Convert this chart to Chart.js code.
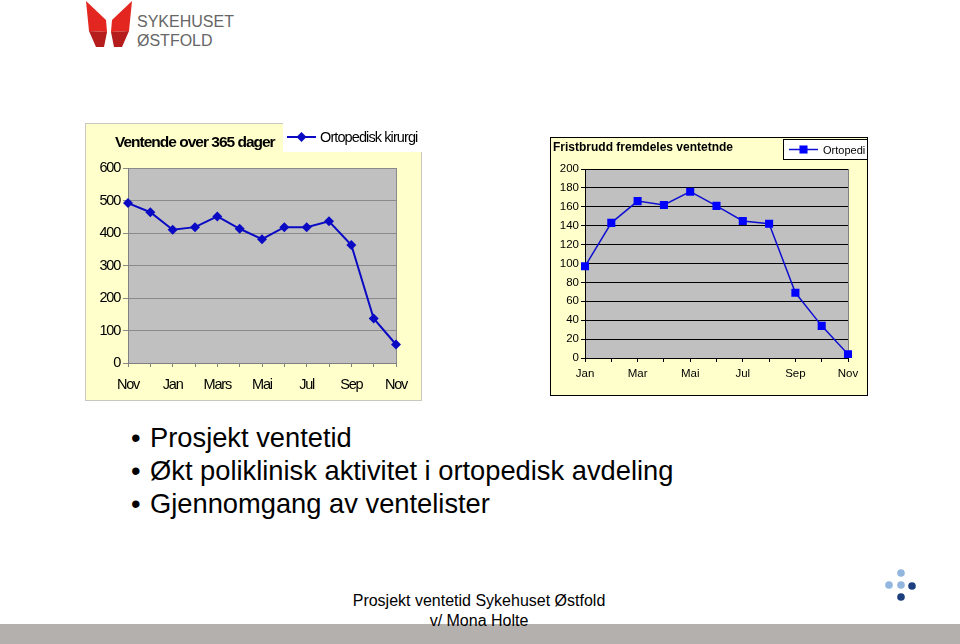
<!DOCTYPE html>
<html>
<head>
<meta charset="utf-8">
<script src="https://cdn.jsdelivr.net/npm/chart.js@4.4.1/dist/chart.umd.min.js"></script>
<style>
  body { margin: 0; width: 960px; height: 644px; position: relative; overflow: hidden; background: #fff;
         font-family: Arial, "Liberation Sans", sans-serif; }
  canvas { position: absolute; }
  #left { left: 85px; top: 123px; }
  #right { left: 550px; top: 137px; }
  .line { position: absolute; left: 150px; font-size: 27.3px; line-height: 33px; color: #000; white-space: nowrap; }
  .line .b { position: absolute; left: -19px; }
  .foot { position: absolute; left: 0; width: 958px; text-align: center; font-size: 16px; line-height: 20px; color: #000; }
  .band { position: absolute; left: 0; top: 624px; width: 960px; height: 20px; background: #b4b0ae; }
  .logo { position: absolute; left: 137px; font-size: 16px; color: #666; letter-spacing: 0px; }
</style>
</head>
<body>
<svg width="960" height="60" style="position:absolute;left:0;top:0">
  <polygon points="86,1 106,20 107,32 89,31" fill="#e3261f"/>
  <polygon points="89,31 107,32 104,47 96,47" fill="#b51d1d"/>
  <polygon points="132,1 112,20 111,32 129,31" fill="#e3261f"/>
  <polygon points="129,31 111,32 114,47 122,47" fill="#b51d1d"/>
</svg>
<div class="logo" style="top:13px">SYKEHUSET</div>
<div class="logo" style="top:32px">ØSTFOLD</div>

<canvas id="left" width="337" height="278"></canvas>
<canvas id="right" width="318" height="259"></canvas>

<div class="line" style="top:421px"><span class="b">•</span>Prosjekt ventetid</div>
<div class="line" style="top:454px"><span class="b">•</span>Økt poliklinisk aktivitet i ortopedisk avdeling</div>
<div class="line" style="top:487px"><span class="b">•</span>Gjennomgang av ventelister</div>

<div class="band"></div>
<div class="foot" style="top:591px">Prosjekt ventetid Sykehuset Østfold</div>
<div class="foot" style="top:611px">v/ Mona Holte</div>

<svg width="960" height="644" style="position:absolute;left:0;top:0;pointer-events:none">
  <circle cx="901" cy="573" r="3.8" fill="#92b6dd"/>
  <circle cx="889" cy="585" r="3.8" fill="#92b6dd"/>
  <circle cx="901" cy="585" r="3.8" fill="#92b6dd"/>
  <circle cx="912" cy="586" r="3.8" fill="#1c3d7e"/>
  <circle cx="901" cy="597" r="3.8" fill="#1c3d7e"/>
</svg>

<script>
// left chart: ventende over 365 dager
const leftMonths = ['Nov', 'Des', 'Jan', 'Feb', 'Mars', 'Apr', 'Mai', 'Jun', 'Jul', 'Aug', 'Sep', 'Okt', 'Nov'];
const leftValues = [492, 464, 410, 418, 451, 413, 381, 418, 418, 436, 363, 137, 57];
const leftSeries = 'Ortopedisk kirurgi';

// right chart: fristbrudd fremdeles ventende
const rightMonths = ['Jan', 'Feb', 'Mar', 'Apr', 'Mai', 'Jun', 'Jul', 'Aug', 'Sep', 'Okt', 'Nov'];
const rightValues = [97, 143, 166, 162, 176, 161, 145, 142, 69, 34, 4];
const rightSeries = 'Ortopedi';

const arial = 'Arial, "Liberation Sans", sans-serif';

function marker(ctx, style, x, y, r, color) {
  ctx.fillStyle = color;
  ctx.beginPath();
  if (style === 'rectRot') {
    ctx.moveTo(x, y - r); ctx.lineTo(x + r, y); ctx.lineTo(x, y + r); ctx.lineTo(x - r, y);
  } else {
    const s = r * Math.SQRT1_2;
    ctx.rect(x - s, y - s, 2 * s, 2 * s);
  }
  ctx.closePath();
  ctx.fill();
}

// draws the yellow box, grey plot area, title and legend box
const boxPlugin = {
  id: 'box',
  beforeDraw(chart, args, o) {
    const ctx = chart.ctx, a = chart.chartArea;
    ctx.save();
    ctx.fillStyle = o.bg;
    ctx.fillRect(0, 0, chart.width, chart.height);
    ctx.strokeStyle = o.border;
    ctx.lineWidth = 1;
    ctx.strokeRect(0.5, 0.5, chart.width - 1, chart.height - 1);
    ctx.fillStyle = o.plotBg;
    ctx.fillRect(a.left, a.top, a.right - a.left, a.bottom - a.top);
    ctx.strokeStyle = o.plotBorder;
    ctx.strokeRect(Math.round(a.left) + 0.5, Math.round(a.top) + 0.5, a.right - a.left, a.bottom - a.top);
    ctx.restore();
    // squeeze the tick labels a little (the original uses a narrow font)
    ctx.letterSpacing = o.tickSpacing || '0px';
  },
  afterDraw(chart, args, o) {
    const ctx = chart.ctx;
    const ds = chart.data.datasets[0];
    ctx.save();
    ctx.fillStyle = '#000';
    ctx.font = o.titleFont;
    ctx.letterSpacing = o.titleSpacing || '0px';
    ctx.textBaseline = 'middle';
    ctx.fillText(o.title, o.titleX, o.titleY);
    const lb = o.legendBox;
    ctx.fillStyle = '#fff';
    ctx.fillRect(lb[0], lb[1], lb[2], lb[3]);
    if (o.legendBorder) {
      ctx.strokeStyle = o.legendBorder;
      ctx.strokeRect(lb[0] + 0.5, lb[1] + 0.5, lb[2] - 1, lb[3] - 1);
    }
    ctx.strokeStyle = ds.borderColor;
    ctx.lineWidth = ds.borderWidth;
    ctx.beginPath();
    ctx.moveTo(o.lineX[0], o.legendY);
    ctx.lineTo(o.lineX[1], o.legendY);
    ctx.stroke();
    marker(ctx, ds.pointStyle, (o.lineX[0] + o.lineX[1]) / 2, o.legendY, ds.pointRadius, ds.pointBackgroundColor);
    ctx.fillStyle = '#000';
    ctx.font = o.legendFont;
    ctx.letterSpacing = o.legendSpacing || '0px';
    ctx.fillText(ds.label, o.textX, o.legendY + 1);
    ctx.restore();
    ctx.letterSpacing = '0px';
  }
};

new Chart('left', {
  type: 'line',
  data: {
    labels: leftMonths,
    datasets: [{
      label: leftSeries,
      data: leftValues,
      borderColor: '#0a0ac4',
      borderWidth: 2,
      pointStyle: 'rectRot',
      pointRadius: 5,
      pointBackgroundColor: '#0a0ac4',
      pointBorderColor: '#0a0ac4',
      pointBorderWidth: 0,
      tension: 0
    }]
  },
  options: {
    responsive: false,
    animation: false,
    devicePixelRatio: 1,
    layout: { padding: { top: 45, right: 26, left: 0, bottom: 0 } },
    scales: {
      x: {
        offset: false,
        grid: { drawOnChartArea: false, tickLength: 4, color: '#808080' },
        border: { color: '#808080' },
        ticks: {
          autoSkip: false, maxRotation: 0, padding: 9, color: '#000',
          font: { family: arial, size: 14.5 },
          callback: (v, i) => (i % 2 === 0 ? leftMonths[i] : '')
        },
        afterFit: (s) => { s.height = 38; }
      },
      y: {
        min: 0, max: 600,
        grid: { tickLength: 5, color: '#8a8a8a' },
        border: { color: '#808080' },
        ticks: { stepSize: 100, padding: 3, color: '#000', font: { family: arial, size: 14.5 } },
        afterFit: (s) => { s.width = 43; }
      }
    },
    plugins: {
      legend: { display: false },
      tooltip: { enabled: false },
      box: {
        bg: '#ffffcc', border: '#c8c8c0', plotBg: '#c0c0c0', plotBorder: '#8a8a8a',
        tickSpacing: '-1.2px', titleSpacing: '-1px', legendSpacing: '-0.9px',
        title: 'Ventende over 365 dager', titleFont: 'bold 15.5px ' + arial, titleX: 30, titleY: 20,
        legendBox: [198, 0, 139, 29], legendBorder: null,
        lineX: [202, 231], legendY: 14, textX: 235, legendFont: '14.5px ' + arial
      }
    }
  },
  plugins: [boxPlugin]
});

new Chart('right', {
  type: 'line',
  data: {
    labels: rightMonths,
    datasets: [{
      label: rightSeries,
      data: rightValues,
      borderColor: '#1010d0',
      borderWidth: 1.5,
      pointStyle: 'rect',
      pointRadius: 5.7,
      pointBackgroundColor: '#0000ff',
      pointBorderColor: '#0000ff',
      pointBorderWidth: 0,
      tension: 0
    }]
  },
  options: {
    responsive: false,
    animation: false,
    devicePixelRatio: 1,
    layout: { padding: { top: 32, right: 20, left: 0, bottom: 0 } },
    scales: {
      x: {
        offset: false,
        grid: { drawOnChartArea: false, tickLength: 4, color: '#000' },
        border: { color: '#000' },
        ticks: {
          autoSkip: false, maxRotation: 0, padding: 5, color: '#000',
          font: { family: arial, size: 11.5 },
          callback: (v, i) => (i % 2 === 0 ? rightMonths[i] : '')
        },
        afterFit: (s) => { s.height = 38; }
      },
      y: {
        min: 0, max: 200,
        grid: { tickLength: 4, color: '#000' },
        border: { color: '#000' },
        ticks: { stepSize: 20, padding: 2, color: '#000', font: { family: arial, size: 11.5 } },
        afterFit: (s) => { s.width = 35; }
      }
    },
    plugins: {
      legend: { display: false },
      tooltip: { enabled: false },
      box: {
        bg: '#ffffcc', border: '#000', plotBg: '#c0c0c0', plotBorder: '#808080',
        title: 'Fristbrudd fremdeles ventetnde', titleFont: 'bold 12px ' + arial, titleX: 3, titleY: 11,
        legendBox: [233, 2, 85, 21], legendBorder: '#000',
        lineX: [239, 268], legendY: 12.5, textX: 273, legendFont: '11px ' + arial
      }
    }
  },
  plugins: [boxPlugin]
});
</script>
</body>
</html>
